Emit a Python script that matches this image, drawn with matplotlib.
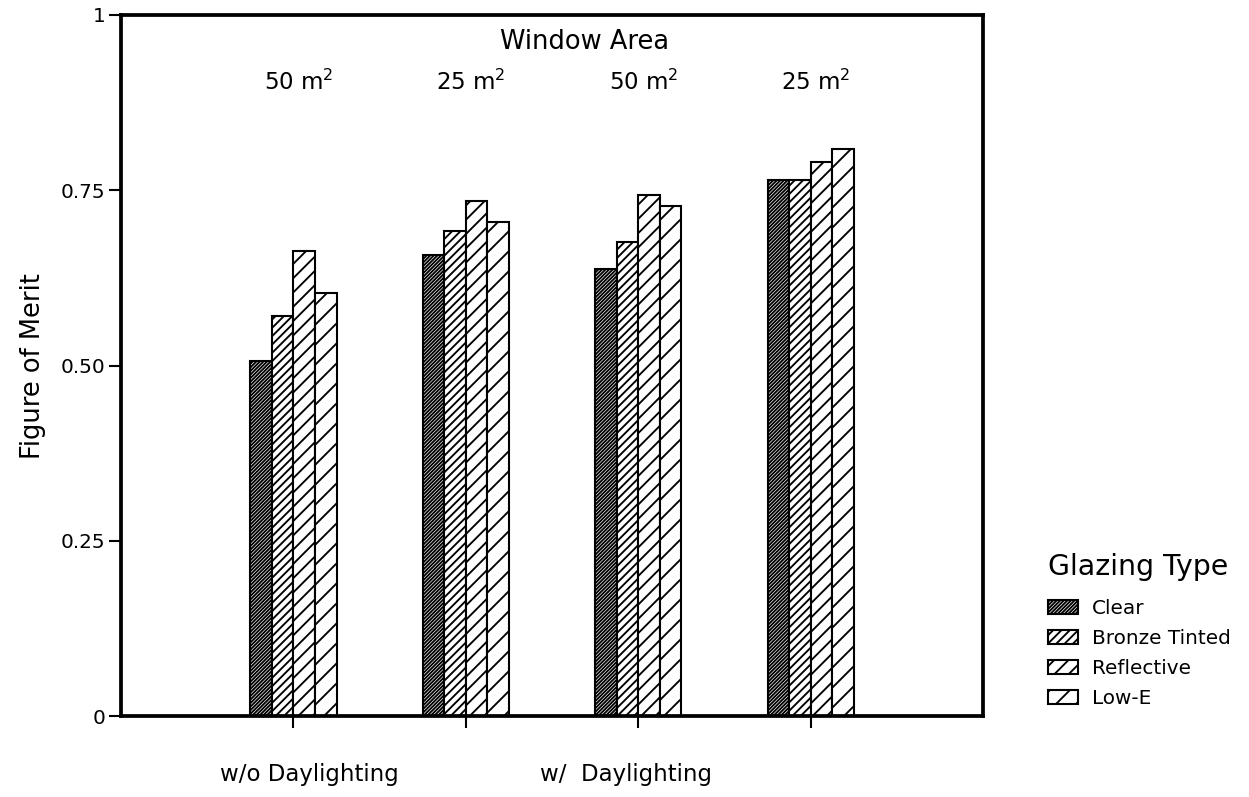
import matplotlib
matplotlib.use('Agg')
import matplotlib.pyplot as plt
import numpy as np

glazing = ['Clear', 'Bronze Tinted', 'Reflective', 'Low-E']
clear = [0.507, 0.658, 0.638, 0.764]
bronze = [0.570, 0.692, 0.676, 0.764]
reflective = [0.663, 0.735, 0.743, 0.790]
lowe = [0.603, 0.705, 0.727, 0.809]
area_labels = ['50 m$^2$', '25 m$^2$', '50 m$^2$', '25 m$^2$']
daylight_labels = ['w/o Daylighting', 'w/  Daylighting']
yticks = [0, 0.25, 0.5, 0.75, 1]
yticklabels = ['0', '0.25', '0.50', '0.75', '1']

series = [clear, bronze, reflective, lowe]
hatches = ['/' * 28, '/' * 12, '/' * 7, '/' * 5]

DPI = 300
W, H = 1249, 797
plt.rcParams['font.family'] = ['DejaVu Sans']
plt.rcParams['hatch.linewidth'] = 0.45
fig = plt.figure(figsize=(W / DPI, H / DPI), dpi=DPI)
L, R, T, B = 121, 983, 15, 716
ax = fig.add_axes([L / W, 1 - B / H, (R - L) / W, (B - T) / H])

x = np.arange(1, len(clear) + 1)
bw = 0.125
handles = []
for i, (vals, h, name) in enumerate(zip(series, hatches, glazing)):
    b = ax.bar(x + (i - 1.5) * bw, vals, width=bw, facecolor='white',
               edgecolor='black', hatch=h, linewidth=0.5, label=name)
    handles.append(b)

ax.set_xlim(0, 5)
ax.set_ylim(0, 1)
ax.set_xticks(x)
ax.set_xticklabels([])
ax.set_yticks(yticks)
ax.set_yticklabels(yticklabels, fontsize=4.8)
ax.tick_params(axis='both', direction='out', length=2.8, width=0.5, pad=1.0)
for s in ax.spines.values():
    s.set_linewidth(0.9)

# top annotations
ax.text(2.69, 0.952, 'Window Area', ha='center', va='baseline', fontsize=6.2)
for xi, lab in zip(x, area_labels):
    ax.text(xi + 0.03, 0.893, lab, ha='center', va='baseline', fontsize=5.5)

# bottom labels
for xc, lab in zip([1.09, 2.93], daylight_labels):
    ax.text(xc, -0.084, lab, ha='center', va='center', fontsize=5.5, clip_on=False)

fig.text(33 / W, 1 - 366 / H, 'Figure of Merit', rotation=90, ha='center', va='center', fontsize=6.2)

fig.text(1048 / W, 1 - 575 / H, 'Glazing Type', ha='left', va='baseline', fontsize=6.8)
leg = fig.legend(handles=handles, labels=glazing, loc='upper left',
                 bbox_to_anchor=(1048 / W, 1 - 599 / H), frameon=False,
                 fontsize=4.8, handlelength=1.5, handleheight=0.75,
                 handletextpad=0.7, labelspacing=0.55, borderpad=0.0,
                 borderaxespad=0.0)

fig.savefig('out.png', dpi=DPI)
